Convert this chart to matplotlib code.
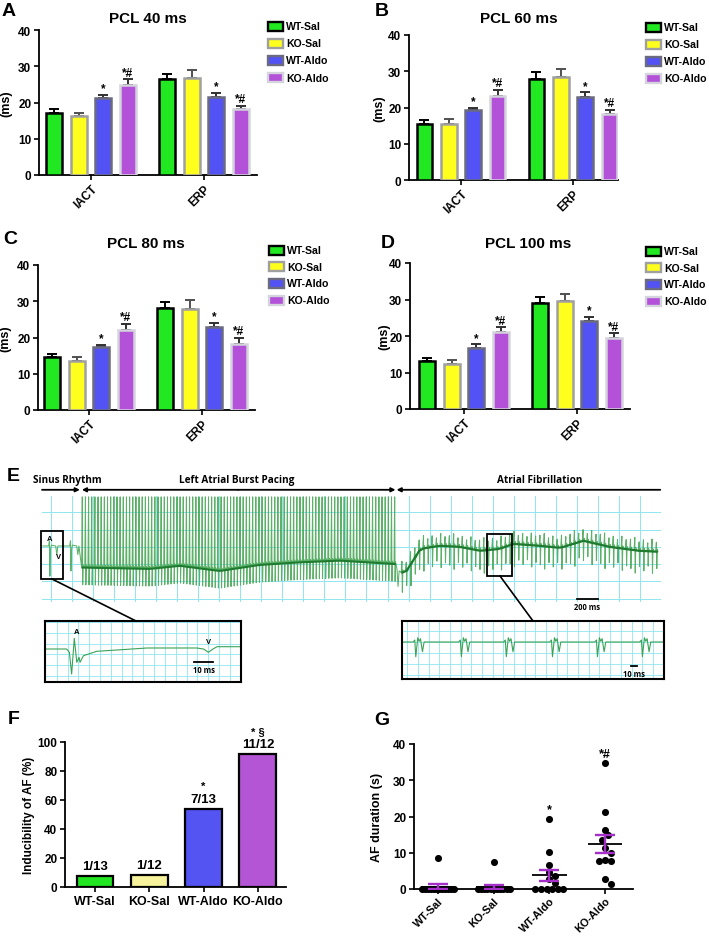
import numpy as np
import matplotlib
matplotlib.use('Agg')
import matplotlib.pyplot as plt
from matplotlib.patches import Rectangle

# ---------------- data ----------------
groups = ['WT-Sal', 'KO-Sal', 'WT-Aldo', 'KO-Aldo']
measures = ['IACT', 'ERP']

# rows: IACT, ERP ; columns: groups
pcl40_mean = [[17.1, 16.4, 21.3, 24.9], [26.4, 26.8, 21.6, 18.1]]
pcl40_sem = [[1.1, 0.8, 0.9, 1.6], [1.5, 2.2, 1.1, 1.0]]
pcl60_mean = [[15.4, 15.4, 19.3, 23.1], [27.9, 28.3, 23.0, 18.2]]
pcl60_sem = [[1.2, 1.3, 0.7, 1.8], [1.8, 2.4, 1.2, 1.2]]
pcl80_mean = [[14.6, 13.6, 17.4, 22.0], [28.2, 27.8, 22.9, 18.3]]
pcl80_sem = [[0.9, 1.1, 0.6, 1.8], [1.5, 2.5, 1.1, 1.6]]
pcl100_mean = [[13.1, 12.2, 16.8, 21.1], [29.1, 29.7, 24.2, 19.5]]
pcl100_sem = [[0.8, 1.1, 0.9, 1.3], [1.7, 1.8, 1.1, 1.2]]
sig_marks = [['', '', '*', '*#'], ['', '', '*', '*#']]

af_induced = [1, 1, 7, 11]
af_total = [13, 12, 13, 12]
af_marks = ['', '', '*', '* §']

afdur_wt_sal = [8.5] + [0.0] * 12
afdur_ko_sal = [7.4] + [0.0] * 11
afdur_wt_aldo = [19.3, 10.3, 6.7, 4.6, 3.5, 2.8, 1.6] + [0.0] * 6
afdur_ko_aldo = [34.7, 21.2, 16.3, 14.8, 13.5, 11.3, 10.0, 8.0, 7.6, 7.6, 2.7, 1.5]
afdur_marks = ['', '', '*', '*#']

# Panel E ECG description (time in ms, amplitude in grid units)
sinus_beat_ms = [-10, 190]
sinus_a_depth = [-1.7, -1.4]
sinus_tpl_dt = [-12, -4, 0, 5, 14, 55, 66, 76]
sinus_tpl_v = [0.05, 0.35, None, -0.2, 0.1, 0.05, -0.45, 0.05]
burst_first_ms, burst_last_ms, burst_cycle_ms = 300, 3270, 30
burst_top = 2.9
burst_tip_depth = 1.0
burst_base_ms = [294, 940, 1225, 1605, 1985, 2365, 2745, 3276]
burst_base_v = [-1.2, -1.28, -1.1, -1.4, -1.05, -0.9, -0.8, -1.0]
af_onset_ms, af_onset_v = 3300, -2.3
af_first_ms, af_last_ms, af_cycle_ms = 3340, 5790, 41
af_base_ms = [3286, 3362, 3514, 3694, 3884, 4084, 4264, 4397, 4644, 4843, 5062, 5309, 5594, 5793]
af_base_v = [-1.28, -1.57, -0.12, 0.06, 0.0, -0.23, -0.12, 0.17, 0.06, -0.06, 0.35, 0.0, -0.23, -0.29]
af_amp = [1.0, 0.75, 1.1, 0.85, 0.95, 1.15, 0.8]

inset1_t = [0, 11.4, 12.8, 14.0, 15.4, 16.7, 17.9, 18.4, 20.2, 27.2, 37.8, 53.5, 79.8, 83.3, 85.9, 88.3, 90.4, 103]
inset1_v = [0, 0, -0.33, -2.5, 1.07, -1.33, -0.83, -1.33, -0.67, -0.23, -0.1, 0.1, 0.1, 0, -0.33, 0, 0.23, 0.23]
inset2_complex_ms = [23, 99, 174, 251, 326, 401]
inset2_tpl_dt = [-4.4, -1.7, 0, 3.3, 5.6, 7.8, 11.1, 13.9]
inset2_tpl_v = [0, 0.2, -1.47, 0.43, 0.07, 0.33, -0.97, 0]

# ---------------- style ----------------
W, H = 709, 937
plt.rcParams['font.family'] = ['Liberation Sans', 'DejaVu Sans']
plt.rcParams['font.weight'] = 'bold'
plt.rcParams['axes.labelweight'] = 'bold'

bar_fill = ['#22e822', '#ffff1e', '#5252f5', '#b352d9']
bar_edge = ['#000000', '#a0a0a0', '#6b6b80', '#d4d4dc']
err_col = ['#000000', '#505050', '#303030', '#303030']
f_fill = ['#22e622', '#f7f39c', '#5454f2', '#b455d6']
ecg_font = ['Liberation Sans Narrow', 'Open Sans', 'DejaVu Sans']

fig = plt.figure(figsize=(W / 100, H / 100), dpi=100)


def rect(l, t, r, b):
    return [l / W, 1 - b / H, (r - l) / W, (b - t) / H]


def style_axes(ax):
    for s in ['top', 'right']:
        ax.spines[s].set_visible(False)
    for s in ['left', 'bottom']:
        ax.spines[s].set_linewidth(1.3)
    ax.tick_params(width=1.2, length=3.5, labelsize=8.5, pad=2)


def bar_panel(box, zero_px_x, grp_px, means, sems, ylab_px):
    l, t, r, b = box
    ax = fig.add_axes(rect(l, t, r, b))
    ax.set_xlim((l - zero_px_x) / grp_px, (r - zero_px_x) / grp_px)
    ax.set_ylim(0, 40)
    offsets = (np.arange(4) - 1.5) * 0.218
    for g in range(4):
        xs = np.arange(2) + offsets[g]
        vals = [means[m][g] for m in range(2)]
        errs = [sems[m][g] for m in range(2)]
        ax.errorbar(xs, vals, yerr=[[0, 0], errs], fmt='none', ecolor=err_col[g],
                    elinewidth=1.4, capsize=3.3, capthick=1.4, zorder=2)
        ax.bar(xs, vals, width=0.14, color=bar_fill[g], edgecolor=bar_edge[g],
               linewidth=1.8, zorder=3)
        for m in range(2):
            if sig_marks[m][g]:
                ax.text(xs[m], vals[m] + errs[m] + 0.1, sig_marks[m][g], ha='center',
                        va='bottom', fontsize=8.5)
    style_axes(ax)
    ax.set_yticks([0, 10, 20, 30, 40])
    ax.set_xticks([0, 1])
    ax.set_xticklabels(measures, rotation=45, ha='right', rotation_mode='anchor', fontsize=8.5)
    ax.set_ylabel('(ms)', fontsize=9)
    ax.yaxis.set_label_coords((ylab_px - l) / (r - l), 0.5)
    return ax


bar_panel((39, 31, 257, 176), 91, 113, pcl40_mean, pcl40_sem, 12)
bar_panel((409, 36, 618, 181), 461, 112, pcl60_mean, pcl60_sem, 385)
bar_panel((38, 266, 255, 411), 89, 113, pcl80_mean, pcl80_sem, 11)
bar_panel((410, 264, 630, 410), 464, 113, pcl100_mean, pcl100_sem, 390)

# ---------------- Panel F ----------------
axF = fig.add_axes(rect(65, 743, 286, 888))
xF = np.arange(4)
pct = np.array(af_induced) / np.array(af_total) * 100
axF.bar(xF, pct, width=0.68, color=f_fill, edgecolor='black', linewidth=1.6, zorder=3)
axF.set_xlim((65 - 95) / 54.3, (286 - 95) / 54.3)
axF.set_ylim(0, 100)
for i in range(4):
    axF.text(xF[i], pct[i] + 2.5, f'{af_induced[i]}/{af_total[i]}', ha='center', va='bottom',
             fontsize=9.5)
    if af_marks[i]:
        axF.text(xF[i], pct[i] + 12.5, af_marks[i], ha='center', va='bottom', fontsize=8)
style_axes(axF)
axF.set_yticks([0, 20, 40, 60, 80, 100])
axF.set_xticks(xF)
axF.set_xticklabels(groups, fontsize=9)
axF.set_ylabel('Inducibility of AF (%)', fontsize=8.5)
axF.yaxis.set_label_coords((35 - 65) / (286 - 65), 0.5)

# ---------------- Panel G ----------------
axG = fig.add_axes(rect(414, 745, 633, 890))
axG.set_xlim((414 - 438) / 55.7, (633 - 438) / 55.7)
axG.set_ylim(0, 40)
px_x, px_y = 55.7, 145 / 40.0


def swarm_offsets(vals, d=6.0):
    vals = np.asarray(vals, float)
    offs = np.zeros(len(vals))
    zeros = np.where(vals == 0)[0]
    n0 = len(zeros)
    if n0 > 1:
        span = min(5.6 * (n0 - 1), 32.0)
        offs[zeros] = np.linspace(-span / 2, span / 2, n0)
    placed = [(offs[k], 0.0) for k in zeros]
    nz = [k for k in np.argsort(-vals) if vals[k] > 0]
    for k in nz:
        y = vals[k] * px_y
        for j in range(0, 40):
            c = ((j + 1) // 2) * (d / 2) * (1 if j % 2 else -1)
            if all((c - px) ** 2 + (y - py) ** 2 >= d * d for px, py in placed):
                break
        offs[k] = c
        placed.append((c, y))
    return offs / px_x


afdur = [afdur_wt_sal, afdur_ko_sal, afdur_wt_aldo, afdur_ko_aldo]
for i, vals in enumerate(afdur):
    v = np.asarray(vals, float)
    xo = i + swarm_offsets(v)
    axG.scatter(xo, v, s=26, color='black', zorder=3, clip_on=False, linewidths=0)
    m = v.mean()
    se = v.std(ddof=1) / np.sqrt(len(v))
    axG.hlines(m, i - 0.31, i + 0.31, color='black', lw=1.3, zorder=4)
    axG.errorbar(i, m, yerr=se, fmt='none', ecolor='#a52fc9', elinewidth=1.7,
                 capsize=7, capthick=1.7, zorder=5)
    if afdur_marks[i]:
        axG.text(i, v.max() + 1.0, afdur_marks[i], ha='center', va='bottom', fontsize=9)
style_axes(axG)
axG.set_yticks([0, 10, 20, 30, 40])
axG.set_xticks(range(4))
axG.set_xticklabels(groups, rotation=45, ha='right', rotation_mode='anchor', fontsize=7.8)
axG.tick_params(axis='x', pad=1)
axG.set_ylabel('AF duration (s)', fontsize=9)
axG.yaxis.set_label_coords((383 - 414) / (633 - 414), 0.5)

# ---------------- Panel E ----------------
grid_c = '#8fe6f0'
trace_c = '#4aa858'
axE = fig.add_axes(rect(42, 497, 661, 603))
axE.set_xlim(-85, 5800)
axE.set_ylim(-3.2, 2.95)
axE.set_xticks(np.arange(0, 5801, 200))
axE.set_yticks([-3, -2, -1, 0, 1, 2])
axE.grid(True, color=grid_c, lw=0.7)
axE.tick_params(length=0, labelbottom=False, labelleft=False)
for s in axE.spines.values():
    s.set_visible(False)

t_pts, v_pts = [-76], [0.05]
for tb, dep in zip(sinus_beat_ms, sinus_a_depth):
    for dt, dv in zip(sinus_tpl_dt, sinus_tpl_v):
        t_pts.append(tb + dt)
        v_pts.append(dep if dv is None else dv)
bt = np.arange(burst_first_ms, burst_last_ms + 1, burst_cycle_ms)
bb = np.interp(bt, burst_base_ms, burst_base_v)
for t, b in zip(bt, bb):
    t_pts += [t - 8, t - 2, t + 2, t + 6]
    v_pts += [b, burst_top, b - burst_tip_depth, b + 0.15]
t_pts += [af_onset_ms - 10, af_onset_ms, af_onset_ms + 10]
v_pts += [-1.3, af_onset_v, -1.4]
at = np.arange(af_first_ms, af_last_ms, af_cycle_ms)
ab = np.interp(at, af_base_ms, af_base_v)
for i, (t, b) in enumerate(zip(at, ab)):
    a = af_amp[i % len(af_amp)]
    t_pts += [t - 10, t - 3, t + 1, t + 6, t + 12]
    v_pts += [b, b + 0.65 * a, b - 1.15 * a, b + 0.15, b]
axE.plot(t_pts, v_pts, color=trace_c, lw=0.75, alpha=0.9, zorder=3)
axE.plot(bt, bb, color='#1d7a2e', lw=1.5, zorder=4)
axE.plot(at, ab, color='#1d7a2e', lw=1.6, zorder=4)

axE.add_patch(Rectangle((-95, -1.86), 209, 2.79, fill=False, ec='black', lw=1.3,
                        clip_on=False, zorder=5))
axE.add_patch(Rectangle((4150, -1.69), 238, 2.45, fill=False, ec='black', lw=1.3,
                        clip_on=False, zorder=5))
axE.text(-9, 0.47, 'A', fontsize=5.5, ha='center', va='center', zorder=6)
axE.text(69, -0.56, 'V', fontsize=5.5, ha='center', va='center', zorder=6)
axE.plot([5000, 5200], [-3.02, -3.02], color='black', lw=1.3, clip_on=False)
axE.text(5100, -3.2, '200 ms', fontsize=5.5, ha='center', va='top', family=ecg_font)

arr_y = 3.31
akw = dict(arrowstyle='-|>', lw=1.3, color='black', mutation_scale=6, shrinkA=0, shrinkB=0)
axE.annotate('', xy=(275, arr_y), xytext=(-85, arr_y), arrowprops=akw, annotation_clip=False)
axE.annotate('', xy=(294, arr_y), xytext=(1780, arr_y), arrowprops=akw, annotation_clip=False)
axE.annotate('', xy=(3276, arr_y), xytext=(1780, arr_y), arrowprops=akw, annotation_clip=False)
axE.annotate('', xy=(3286, arr_y), xytext=(5793, arr_y), arrowprops=akw, annotation_clip=False)
tkw = dict(fontsize=7.2, ha='center', va='center', family=ecg_font, fontweight='bold')
axE.text(152, 3.9, 'Sinus Rhythm', **tkw)
axE.text(1766, 3.9, 'Left Atrial Burst Pacing', **tkw)
axE.text(4644, 3.9, 'Atrial Fibrillation', **tkw)

# inset 1 (sinus)
ax1 = fig.add_axes(rect(45, 622, 241, 683))
ax1.set_xlim(0, 103)
ax1.set_ylim(-3.3, 2.8)
ax1.set_xticks(np.arange(6.2, 103, 5.68))
ax1.set_yticks(np.arange(-2.7, 2.8, 1.08))
ax1.grid(True, color=grid_c, lw=0.6)
ax1.tick_params(length=0, labelbottom=False, labelleft=False)
for s in ax1.spines.values():
    s.set_linewidth(1.5)
ax1.plot(inset1_t, inset1_v, color='#3aa357', lw=0.8)
ax1.text(16.8, 1.7, 'A', fontsize=5.5, ha='center', va='center')
ax1.text(85.8, 0.75, 'V', fontsize=5.5, ha='center', va='center')
ax1.plot([78.4, 88.4], [-1.3, -1.3], color='black', lw=1.3)
ax1.text(83.4, -1.65, '10 ms', fontsize=5.5, ha='center', va='top', family=ecg_font)

# inset 2 (AF)
ax2 = fig.add_axes(rect(402, 622, 664, 680))
ax2.set_xlim(0, 437)
ax2.set_ylim(-3.7, 2.1)
ax2.set_xticks(np.arange(9, 437, 17.8))
ax2.set_yticks(np.arange(-3.3, 2.1, 1.1))
ax2.grid(True, color=grid_c, lw=0.6)
ax2.tick_params(length=0, labelbottom=False, labelleft=False)
for s in ax2.spines.values():
    s.set_linewidth(1.5)
t2, v2 = [0.0], [0.0]
for c in inset2_complex_ms:
    t2 += [c + d for d in inset2_tpl_dt]
    v2 += inset2_tpl_v
t2 += [437.0]
v2 += [0.0]
ax2.plot(t2, v2, color='#3aa357', lw=0.8)
ax2.plot([381.7, 391.7], [-2.4, -2.4], color='black', lw=1.3)
ax2.text(386.7, -2.7, '10 ms', fontsize=5.5, ha='center', va='top', family=ecg_font)

# ---------------- overlay (letters, legends, connectors) ----------------
ov = fig.add_axes([0, 0, 1, 1])
ov.set_xlim(0, W)
ov.set_ylim(H, 0)
ov.axis('off')
for lt, (x, y) in zip('ABCDEFG', [(9, 11), (382, 12), (10, 240), (388, 243), (13, 477),
                                  (14, 720), (382, 721)]):
    ov.text(x, y, lt, fontsize=14, ha='center', va='center')
titles = [('PCL 40 ms', 148, 19), ('PCL 60 ms', 519, 19), ('PCL 80 ms', 146, 244),
          ('PCL 100 ms', 528, 244)]
for s, x, y in titles:
    ov.text(x, y, s, fontsize=11, ha='center', va='center')
for lx, ly, dy in [(268, 27, 17.2), (646, 28, 17.0), (269, 251, 16.7), (646, 252, 16.7)]:
    for g in range(4):
        yy = ly + g * dy
        ov.add_patch(Rectangle((lx, yy - 4.5), 15, 9, facecolor=bar_fill[g],
                               edgecolor=bar_edge[g], lw=1.7))
        ov.text(lx + 18, yy, groups[g], fontsize=7.6, ha='left', va='center')
ov.plot([52, 136], [580, 622], color='black', lw=1.2)
ov.plot([500, 533], [577, 622], color='black', lw=1.2)

fig.savefig('out.png', dpi=100)
